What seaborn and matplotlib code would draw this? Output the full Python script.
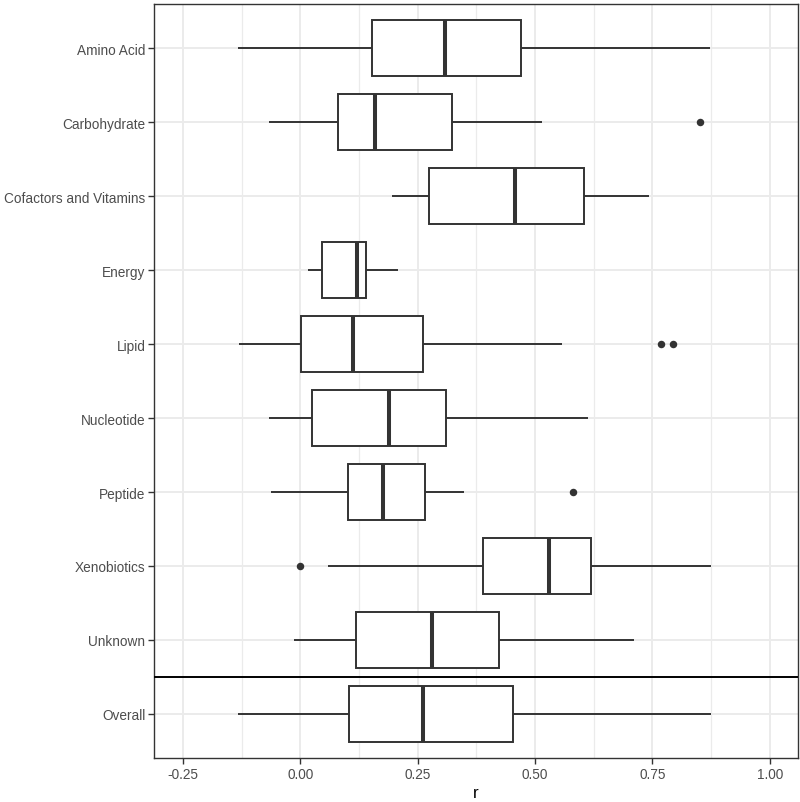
import matplotlib
matplotlib.use("Agg")
import matplotlib.pyplot as plt
import seaborn as sns
import pandas as pd
from matplotlib.ticker import FixedLocator

categories = ["Amino Acid", "Carbohydrate", "Cofactors and Vitamins", "Energy", "Lipid",
              "Nucleotide", "Peptide", "Xenobiotics", "Unknown", "Overall"]
whislo = [-0.133, -0.066, 0.194, 0.017, -0.131, -0.066, -0.062, 0.0585, -0.014, -0.133]
q1 = [0.152, 0.081, 0.273, 0.046, 0.002, 0.025, 0.102, 0.388, 0.119, 0.104]
median = [0.3085, 0.158, 0.457, 0.120, 0.113, 0.189, 0.176, 0.530, 0.280, 0.261]
q3 = [0.470, 0.322, 0.604, 0.140, 0.262, 0.310, 0.266, 0.619, 0.424, 0.452]
whishi = [0.873, 0.514, 0.742, 0.207, 0.558, 0.612, 0.349, 0.874, 0.710, 0.874]
outlier_cat = ["Carbohydrate", "Lipid", "Lipid", "Peptide", "Xenobiotics"]
outlier_r = [0.851, 0.769, 0.793, 0.580, 0.000]
x_ticks = [-0.25, 0.0, 0.25, 0.5, 0.75, 1.0]
x_ticklabels = ["-0.25", "0.00", "0.25", "0.50", "0.75", "1.00"]

sns.set_theme(style="white")
plt.rcParams["font.family"] = ["Liberation Sans", "DejaVu Sans"]

rows = []
for i, c in enumerate(categories):
    for v in (whislo[i], q1[i], median[i], q3[i], whishi[i]):
        rows.append({"category": c, "r": v})
df = pd.DataFrame(rows)
df_out = pd.DataFrame({"category": outlier_cat, "r": outlier_r})

fig = plt.figure(figsize=(8.0, 8.03), dpi=100)
ax = fig.add_axes([0.1925, 0.0544, 0.9975 - 0.1925, 0.994 - 0.0544])

dark = "#333333"
sns.boxplot(data=df, x="r", y="category", order=categories, whis=(0, 100),
            width=0.75, color="white", linecolor=dark, linewidth=1.4,
            showcaps=False, showfliers=False,
            medianprops={"linewidth": 2.9, "color": dark},
            boxprops={"facecolor": "white"}, ax=ax, zorder=3)
sns.stripplot(data=df_out, x="r", y="category", order=categories, jitter=False,
              color=dark, size=5.4, linewidth=0, ax=ax, zorder=4)

ax.axhline(8.5, color="black", lw=1.4, zorder=5)

ax.set_xlim(-0.312, 1.060)
ax.set_ylim(9.6, -0.6)
ax.xaxis.set_major_locator(FixedLocator(x_ticks))
ax.set_xticklabels(x_ticklabels)
ax.xaxis.set_minor_locator(FixedLocator([-0.125, 0.125, 0.375, 0.625, 0.875]))
ax.set_axisbelow(True)
ax.grid(True, which="major", color="#EBEBEB", lw=1.42, zorder=0)
ax.grid(True, which="minor", axis="x", color="#EBEBEB", lw=0.9, zorder=0)

ax.tick_params(axis="both", which="major", length=4.0, width=1.0, color=dark,
               labelsize=9.8, labelcolor="#4D4D4D", pad=2.2, direction="out",
               bottom=True, left=True)
ax.tick_params(axis="x", which="minor", length=0)
for s in ax.spines.values():
    s.set_color(dark)
    s.set_linewidth(1.0)
    s.set_visible(True)

ax.set_xlabel("r", fontsize=12.2, color="black", labelpad=3)
ax.set_ylabel("")

fig.savefig("out.png", dpi=100)
